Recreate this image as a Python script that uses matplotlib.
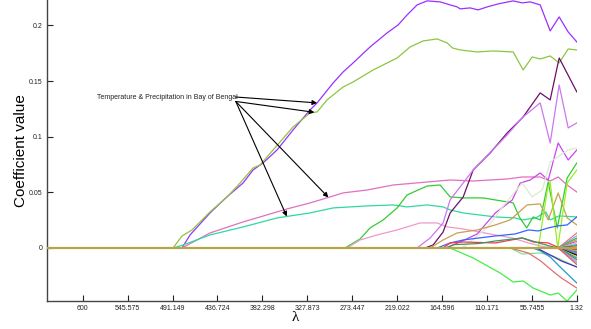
import numpy as np
import matplotlib
matplotlib.use("Agg")
import matplotlib.pyplot as plt

# lambda axis (reversed: large lambda on the left)
lam_max = 643.6
lam_min = 1.32
xtick_vals = [600, 545.575, 491.149, 436.724, 382.298, 327.873, 273.447,
              219.022, 164.596, 110.171, 55.7455, 1.32]
xtick_labels = ["600", "545.575", "491.149", "436.724", "382.298", "327.873",
                "273.447", "219.022", "164.596", "110.171", "55.7455", "1.32"]
ytick_vals = [0, 0.05, 0.1, 0.15, 0.2]
ytick_labels = ["0", "0.05", "0.1", "0.15", "0.2"]

# coefficient paths: (lambda, value) knots
purple_lam = [479.6, 469.9, 445.7, 425.5, 405.7, 393.6, 381.5, 364.5, 345.1, 324.5, 316, 296.6,
              284.5, 272.4, 251.8, 231.2, 217.8, 206.9, 194.8, 182.7, 166.9, 154.8, 146.3,
              142.7, 130.6, 120.9, 109.9, 96.6, 78.4, 67.5, 57.8, 45.7, 33.6, 22.7, 11.8, 1.32]
purple_val = [0, 0.0117, 0.0315, 0.0458, 0.0584, 0.0701, 0.0764, 0.0881, 0.1061, 0.1241, 0.1304, 0.1483,
              0.1582, 0.1663, 0.1807, 0.1933, 0.2005, 0.2095, 0.2185, 0.2221, 0.2212, 0.2185, 0.2167,
              0.2149, 0.2158, 0.2140, 0.2167, 0.2194, 0.2221, 0.2203, 0.2212, 0.2185, 0.1951, 0.2077, 0.1942, 0.1852]

ygreen_lam = [490.5, 479.6, 467.5, 445.7, 425.1, 409.3, 393.6, 385.1, 369.3, 345.1, 324.5, 316,
              303.9, 284.5, 272.4, 248.1, 219, 203.3, 187.5, 170.5, 158.4, 152, 142.7, 122.1,
              102.7, 78.4, 66.3, 55.4, 45.7, 33.6, 22.7, 11.8, 1.32]
ygreen_val = [0, 0.0108, 0.0162, 0.0324, 0.0458, 0.0584, 0.0719, 0.0746, 0.0881, 0.1088, 0.1214, 0.1223,
              0.1331, 0.1447, 0.1492, 0.1600, 0.1708, 0.1807, 0.1861, 0.1879, 0.1843, 0.1798, 0.1780, 0.1762,
              0.1771, 0.1762, 0.1600, 0.1717, 0.1699, 0.1726, 0.1663, 0.1789, 0.1780]

pink_lam = [479.6, 445.7, 405.7, 385.1, 352.4, 324.5, 300.2, 284.5, 255.4, 223.9, 182.7, 154.8,
            126.9, 85.7, 67.5, 45.7, 33.6, 23.9, 13, 1.32]
pink_val = [0, 0.0135, 0.0234, 0.0279, 0.0351, 0.0405, 0.0459, 0.0495, 0.0521, 0.0566, 0.0593, 0.0611,
            0.0602, 0.0620, 0.0638, 0.0638, 0.0602, 0.0638, 0.0566, 0.0503]

teal_lam = [490.5, 478.4, 445.7, 405.7, 364.5, 324.5, 296.6, 255.4, 223.9, 206.9, 182.7, 163.3,
            154.8, 139, 100, 76, 67.5, 51, 39, 33.6, 23, 1.32]
teal_val = [0, 0.0027, 0.0117, 0.0189, 0.0270, 0.0315, 0.0360, 0.0378, 0.0387, 0.0369, 0.0387, 0.0369,
            0.0342, 0.0315, 0.0279, 0.0270, 0.0252, 0.0270, 0.0324, 0.0252, 0.0288, 0.0279]

green_lam = [282.1, 263.9, 251.8, 236, 219, 206.9, 182.7, 166.9, 154.8, 139, 114.8, 78.4, 71, 62,
             54.2, 45.7, 36, 25, 13, 1.32]
green_val = [0, 0.0081, 0.0180, 0.0252, 0.0360, 0.0477, 0.0557, 0.0566, 0.0459, 0.0450, 0.0450, 0.0405,
             0.0279, 0.0180, 0.0279, 0.0252, 0.0594, 0.0180, 0.0629, 0.0764]

lightpink_lam = [279.6, 263.9, 243.3, 219, 191.2, 170.5, 158.4, 139, 100, 79.6, 60, 40, 1.32]
lightpink_val = [0, 0.0072, 0.0117, 0.0162, 0.0225, 0.0225, 0.0189, 0.0171, 0.0117, 0.0090, 0.0045, 0.0009, 0.0]

dpurple_lam = [185.1, 175.4, 163.3, 154.8, 139, 126.9, 106.3, 85.7, 69.9, 66.3, 45.7, 33.6, 22.7, 1.32]
dpurple_val = [0, 0.0027, 0.0144, 0.0315, 0.0458, 0.0701, 0.0854, 0.1034, 0.1151, 0.1178, 0.1394,
               0.1331, 0.1708, 0.1403]

violet_lam = [194.8, 179, 163.3, 154.8, 126.9, 85.7, 69.9, 66.3, 45.7, 33.6, 22.7, 11.8, 1.32]
violet_val = [0, 0.0090, 0.0225, 0.0432, 0.0701, 0.1016, 0.1151, 0.1178, 0.1304, 0.0944, 0.1465,
              0.1079, 0.1124]

magenta_lam = [160, 140, 122, 100, 79.6, 69.9, 57.8, 45.7, 36, 23.9, 11.8, 1.32]
magenta_val = [0, 0.0063, 0.0126, 0.0315, 0.0431, 0.0584, 0.0611, 0.0674, 0.0611, 0.0944, 0.0791, 0.0881]

pale_lam = [140, 110, 94.2, 67.5, 55.4, 43, 33.6, 11.8, 1.32]
pale_val = [0, 0.0180, 0.0342, 0.0584, 0.0459, 0.0522, 0.0773, 0.0881, 0.0899]

tan_lam = [179, 163.3, 146.3, 122.1, 100, 82.1, 61.5, 45.7, 36, 23.9, 13, 1.32]
tan_val = [0, 0.0072, 0.0135, 0.0162, 0.0207, 0.0252, 0.0387, 0.0396, 0.0252, 0.0494, 0.0270, 0.0207]

lime_lam = [48, 37, 33.6, 24.5, 13, 1.32]
lime_val = [0, 0.0522, 0.0594, 0.0, 0.0584, 0.0701]

blue_lam = [170.5, 154.8, 139, 100, 76, 60, 48, 36, 25, 13, 1.32]
blue_val = [0, 0.0045, 0.0072, 0.0108, 0.0126, 0.0162, 0.0153, 0.0180, 0.0198, 0.0207, 0.0279]

red_lam = [163.3, 154.8, 139, 100, 67.5, 54, 36, 25, 1.32]
red_val = [0, 0.0045, 0.0054, 0.0045, 0.0090, 0.0054, 0.0045, 0.0009, -0.004]

dgreen_lam = [160, 150, 120, 100, 67.5, 45, 28, 1.32]
dgreen_val = [0, 0.0030, 0.0040, 0.0063, 0.0090, 0.0040, 0.0005, -0.006]

negpale_lam = [82, 67.5, 45.7, 30, 1.32]
negpale_val = [0, -0.0054, -0.0045, -0.0072, -0.0171]

salmon_lam = [82, 60, 45, 33.6, 20, 1.32]
salmon_val = [0, -0.0045, -0.0117, -0.0189, -0.0270, -0.0360]

skyblue_lam = [55, 45, 33.6, 21.5, 1.32]
skyblue_val = [0, -0.0027, -0.0081, -0.0171, -0.0315]

indigo_lam = [50, 33.6, 20, 1.32]
indigo_val = [0, -0.0063, -0.0117, -0.0171]

neggreen_lam = [154.8, 126.9, 94.2, 78.4, 66.3, 54.2, 33.6, 23.9, 13, 1.32]
neggreen_val = [0, -0.0090, -0.0225, -0.0306, -0.0297, -0.0360, -0.0423, -0.0405, -0.0477, -0.0378]

# many small coefficients entering near the end of the path
fan_start = 24.0
fan_end_vals = [0.0135, 0.011, 0.009, 0.0075, 0.006, 0.0045, 0.0032, 0.002, 0.001, -0.0005,
                -0.0015, -0.0025, -0.0035, -0.0045, -0.0055, -0.0065, -0.0078, -0.009, -0.0105,
                -0.012, -0.0135, -0.015]
fan_colors = ["#ff6666", "#66aaff", "#33aa33", "#cc9933", "#9966cc", "#ff99cc", "#33cccc",
              "#444444", "#ff9900", "#3366cc", "#cc3333", "#99cc33", "#6666ff", "#cc66cc",
              "#339999", "#000000", "#ffcc00", "#0099ff", "#996633", "#66cc99", "#aa88ee", "#ee5555"]

series = [
    (purple_lam, purple_val, "#9b30ff"),
    (ygreen_lam, ygreen_val, "#8cc63f"),
    (pink_lam, pink_val, "#e070c0"),
    (teal_lam, teal_val, "#2fd9a0"),
    (green_lam, green_val, "#33cc33"),
    (lightpink_lam, lightpink_val, "#ee99cc"),
    (dpurple_lam, dpurple_val, "#6b0f6b"),
    (violet_lam, violet_val, "#cc77ee"),
    (magenta_lam, magenta_val, "#cc44ee"),
    (pale_lam, pale_val, "#dcebd0"),
    (tan_lam, tan_val, "#c8a050"),
    (lime_lam, lime_val, "#99ee22"),
    (blue_lam, blue_val, "#3366ff"),
    (red_lam, red_val, "#ff3344"),
    (dgreen_lam, dgreen_val, "#339966"),
    (negpale_lam, negpale_val, "#88dd99"),
    (salmon_lam, salmon_val, "#e07070"),
    (skyblue_lam, skyblue_val, "#2299cc"),
    (indigo_lam, indigo_val, "#4433bb"),
    (neggreen_lam, neggreen_val, "#44ee44"),
]

annot_text = "Temperature & Precipitation in Bay of Bengal"
annot_targets = [(purple_lam, purple_val, 316.0), (ygreen_lam, ygreen_val, 319.3),
                 (pink_lam, pink_val, 302.3), (teal_lam, teal_val, 352.7)]

plt.rcParams['font.family'] = ['Liberation Sans', 'DejaVu Sans']

fig = plt.figure(figsize=(5.91, 3.29), dpi=100)
ax = fig.add_axes([0.079, 0.086, 0.897, 0.914])

for lams, vals, col in series:
    ax.plot([lam_max] + lams, [0] + vals, color=col, lw=0.9)

for v, col in zip(fan_end_vals, fan_colors):
    ax.plot([lam_max, fan_start, lam_min], [0, 0, v], color=col, lw=0.8)

# zero line drawn last, on top
ax.plot([lam_max, lam_min], [0, 0], color="#b8a646", lw=1.6, zorder=5)

ax.set_xlim(lam_max, lam_min)
ax.set_ylim(-0.0474, 0.2229)
ax.set_xticks(xtick_vals)
ax.set_xticklabels(xtick_labels)
ax.set_yticks(ytick_vals)
ax.set_yticklabels(ytick_labels)
ax.tick_params(direction="in", length=4, width=0.8, labelsize=5, pad=3, colors="#222222")
ax.spines["top"].set_visible(False)
ax.spines["right"].set_visible(False)
for s in ("left", "bottom"):
    ax.spines[s].set_linewidth(1.0)
    ax.spines[s].set_color("#444444")

ax.set_ylabel("Coefficient value", fontsize=11)
ax.yaxis.set_label_coords(-0.036, 0.5)
ax.set_xlabel("λ", fontsize=11, family=["Liberation Serif", "DejaVu Serif"], va="center")
ax.xaxis.set_label_coords(0.5, 0.036, transform=fig.transFigure)

ax.text(583, 0.1355, annot_text, fontsize=5, ha="left", va="center", color="#222222")
for i, (lams, vals, tx) in enumerate(annot_targets):
    ty = np.interp(tx, lams[::-1], vals[::-1])
    sy = 0.1357 if i == 0 else 0.1317
    ax.annotate("", xy=(tx, ty), xytext=(414.5, sy),
                arrowprops=dict(arrowstyle="-|>", color="black", lw=0.8,
                                mutation_scale=7, shrinkA=0, shrinkB=0))

fig.savefig("out.png", dpi=100)
